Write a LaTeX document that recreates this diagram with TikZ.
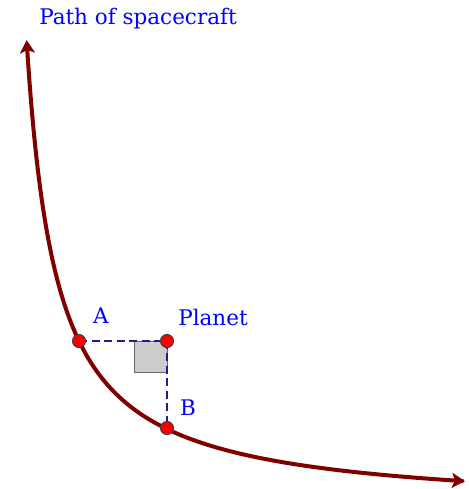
\documentclass[tikz,border=0pt]{standalone}
\usepackage{fontspec}
\setmainfont{DejaVu Serif}
\usetikzlibrary{arrows.meta}
\definecolor{pathred}{RGB}{128,0,0}
\definecolor{lblblue}{RGB}{0,0,255}
\definecolor{dashblue}{RGB}{30,30,140}
\begin{document}
\begin{tikzpicture}[x=1pt,y=-1pt,
  lbl/.style={text=lblblue,font=\fontsize{21.5}{24}\selectfont,inner sep=0pt},
  pt/.style={circle,fill=red,draw=black!75,line width=1pt,minimum size=13pt,inner sep=0pt},
  dashln/.style={dashblue,line width=1.3pt,dash pattern=on 8pt off 4.5pt},
  tip/.style={Stealth[length=13pt,width=15pt,inset=3pt]},
  curve/.style={pathred,line width=4pt,{Stealth[length=13pt,width=15pt,inset=3pt]}-{Stealth[length=13pt,width=15pt,inset=3pt]}}]
\useasboundingbox (0,0) rectangle (468,489);
% right-angle marker
\filldraw[fill=black!20,draw=black!60,line width=1pt] (134,341) rectangle (167,372);
% path of spacecraft: (x+3)(511-y)=13940
\draw[curve,domain=29.6:468,samples=300,variable=\u] plot ({\u-3},{511-13940/\u});
\coordinate (planetc) at (167,341);
\coordinate (ac) at (79,341);
\coordinate (bc) at (167,428);
\draw[dashln] (ac) -- (planetc) -- (bc);
\node[pt] (A) at (ac) {};
\node[pt] (P) at (planetc) {};
\node[pt] (B) at (bc) {};
\node[lbl] (Alab) at (101,316) {A};
\node[lbl] (Plab) at (213,317) {Planet};
\node[lbl] (Blab) at (188,408) {B};
\node[lbl] (title) at (138,19) {Path of spacecraft};
\end{tikzpicture}
\end{document}
